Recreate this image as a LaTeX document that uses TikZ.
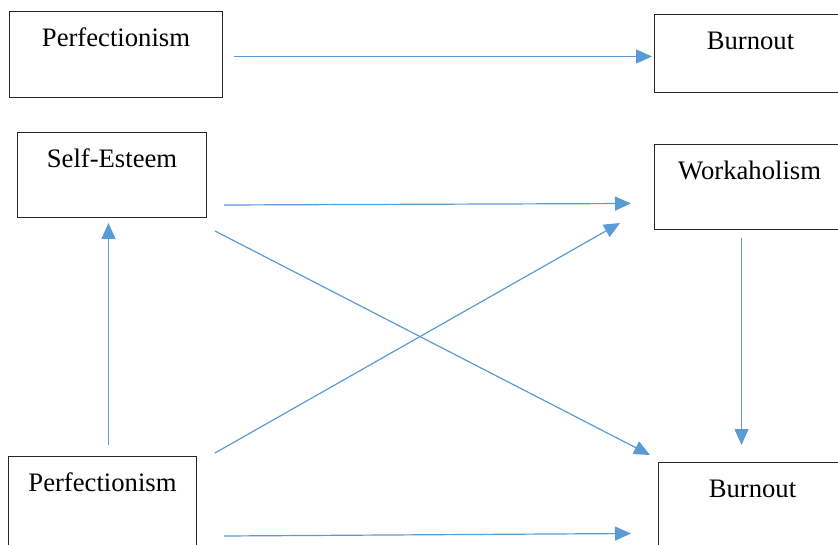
\documentclass[tikz,border=0pt]{standalone}
\usepackage{fontspec}
\setmainfont{Liberation Serif}
\definecolor{LinkBlue}{RGB}{91,155,213}
\usepackage{tikz}
\usetikzlibrary{arrows.meta, positioning, calc}

\begin{document}
\begin{tikzpicture}[x=0.75pt,y=-0.75pt,
	var/.style={draw=black!85,line width=0.75pt,rectangle,anchor=north west,
		inner ysep=0pt,inner xsep=0pt,text height=26.25pt,font=\fontsize{20}{24}\selectfont},
	link/.style={LinkBlue,line width=0.9pt,-{Triangle[length=12pt,width=10.5pt]}}]
\path[use as bounding box,clip] (0,0) rectangle (838,545);
% left column
\node[var,minimum width=159.75pt,text depth=38.25pt] (perf1) at (9,11){Perfectionism};
\node[var,minimum width=141.75pt,text depth=37.5pt] (esteem) at (17,132){Self-Esteem};
\node[var,minimum width=141pt,text depth=41.25pt] (perf2) at (8,456){Perfectionism};
% right column
\node[var,minimum width=144pt,text depth=32.25pt] (burn1) at (654,14){Burnout};
\node[var,minimum width=142.5pt,text depth=37.5pt] (work) at (654,144){Workaholism};
\node[var,minimum width=141pt,text depth=41.25pt] (burn2) at (658,462){Burnout};
% paths
\draw[link] ($(perf1.east)+(11,2)$) -- ($(burn1.west)+(-2,3)$);
\draw[link] ($(esteem.south east)+(17,-13)$) -- ($(work.west)+(-23,16.5)$);
\draw[link] ($(esteem.south east)+(8,13)$) -- ($(burn2.north west)+(-8,-7)$);
\draw[link] ($(perf2.north east)+(18,-3)$) -- ($(work.south west)+(-34,-7)$);
\draw[link] ($(perf2.north)+(6,-11)$) -- ($(esteem.south)+(-3.5,5)$);
\draw[link] ($(work.south)+(-8,8)$) -- ($(burn2.north)+(-11,-17)$);
\draw[link] ($(perf2.south east)+(27,-11)$) -- ($(burn2.west)+(-27,26)$);
\end{tikzpicture}
\end{document}
